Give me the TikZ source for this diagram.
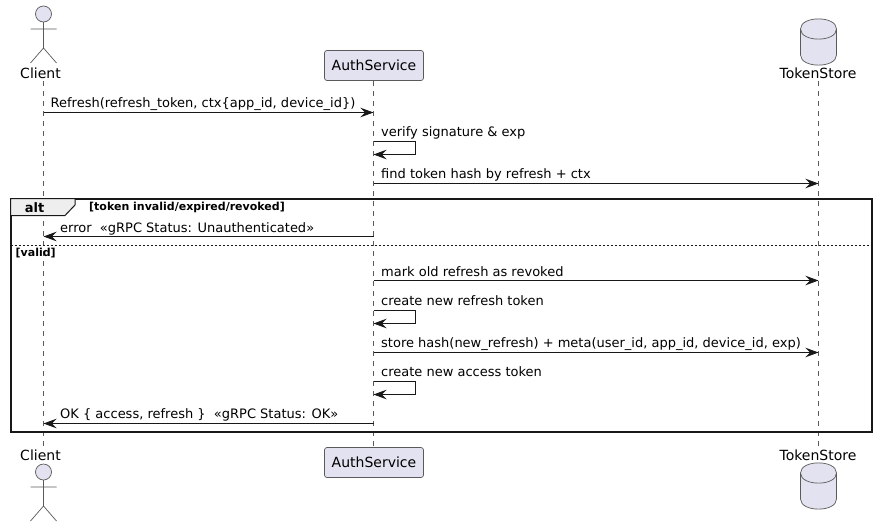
\documentclass[tikz,border=0pt]{standalone}
\usepackage{fontspec}
\setmainfont{DejaVu Sans}
\usetikzlibrary{arrows.meta}
\definecolor{partfill}{HTML}{E2E2F0}
\definecolor{ink}{HTML}{181818}
\definecolor{edge}{HTML}{5A5A5A}
\definecolor{tabfill}{HTML}{EEEEEE}
\tikzset{
  x=1pt,y=-1pt,
  lifeline/.style={draw=edge,line width=0.6pt,dash pattern=on 5pt off 5pt},
  msg/.style={draw=ink,line width=1pt,-{Stealth[length=13pt,width=9.5pt,inset=4.5pt]}},
  msgtext/.style={anchor=base west,inner sep=0pt,font=\fontsize{13}{15}\selectfont,text=black},
  parttext/.style={inner sep=0pt,font=\fontsize{14}{17}\selectfont,text=black},
  partbox/.style={draw=edge,line width=0.7pt,fill=partfill,rounded corners=2.5pt,minimum width=99pt,minimum height=30pt,inner sep=0pt,font=\fontsize{14}{17}\selectfont},
  actorline/.style={draw=edge,line width=0.7pt},
  dbshape/.style={draw=edge,line width=0.7pt,fill=partfill},
  grouptext/.style={anchor=base west,inner sep=0pt,font=\fontsize{11}{13}\selectfont\bfseries,text=black},
  frameline/.style={draw=ink,line width=2pt},
}
\newcommand{\actorfig}[2]{%
  \draw[actorline,fill=partfill] (#1,#2) circle[radius=8];
  \draw[actorline] (#1,#2+8) -- (#1,#2+34) (#1-13,#2+15) -- (#1+13,#2+15)
    (#1-13,#2+49) -- (#1,#2+34) -- (#1+13,#2+49);}
\newcommand{\dbfig}[2]{%
  \draw[dbshape] (#1-18,#2+10) .. controls (#1-18,#2-3.5) and (#1+18,#2-3.5) .. (#1+18,#2+10)
    -- (#1+18,#2+36) .. controls (#1+18,#2+49.5) and (#1-18,#2+49.5) .. (#1-18,#2+36) -- cycle;
  \draw[dbshape,fill=none] (#1-18,#2+10) .. controls (#1-18,#2+23.5) and (#1+18,#2+23.5) .. (#1+18,#2+10);}
\begin{document}
\begin{tikzpicture}
\useasboundingbox (0,0) rectangle (877,528);
\fill[white] (0,0) rectangle (877,528);

% lifeline ends
\coordinate (ctop) at (43.5,81);
\coordinate (cbot) at (43.5,446);
\coordinate (atop) at (373.5,81);
\coordinate (abot) at (373.5,447);
\coordinate (ttop) at (818.5,81);
\coordinate (tbot) at (818.5,446);
\draw[lifeline] (ctop) -- (cbot);
\draw[lifeline] (atop) -- (abot);
\draw[lifeline] (ttop) -- (tbot);

% participants
\actorfig{43.5}{14}
\node[parttext] (clienttop) at (40.5,73) {Client};
\node[partbox] (authtop) at (374,65.5) {AuthService};
\dbfig{818.5}{19}
\node[parttext] (tokentop) at (818,73) {TokenStore};

\node[parttext] (clientbot) at (40.5,455) {Client};
\actorfig{43.5}{472}
\node[partbox] (authbot) at (374,462.5) {AuthService};
\node[parttext] (tokenbot) at (818,455) {TokenStore};
\dbfig{818.5}{463}

% alt frame
\draw[frameline] (10.5,198.5) rectangle (871.5,431.5);
\draw[draw=ink,line width=1pt,fill=tabfill] (10.5,198.5) -- (75,198.5) -- (75,205) -- (65,215.5) -- (10.5,215.5) -- cycle;
\node[inner sep=0pt,font=\fontsize{13}{15}\selectfont\bfseries,anchor=base] (alttag) at (34.5,212) {alt};
\node[grouptext] (guardone) at (89,210.5) {[token invalid/expired/revoked]};
\draw[draw=ink,line width=0.8pt,dash pattern=on 2pt off 2pt] (10.5,245) -- (871.5,245);
\node[grouptext] (guardtwo) at (15.5,256) {[valid]};

% message anchors
\foreach \n/\x/\y in {
  ma/43.5/112.5, mb/373.5/112.5,
  sa/373.5/141.5, sb/415.5/141.5, sc/415.5/154.5, sd/373.5/154.5,
  fa/373.5/183.5, fb/818.5/183.5,
  ea/373.5/236.5, eb/43.5/236.5,
  ka/373.5/280.5, kb/818.5/280.5,
  na/373.5/310.5, nb/415.5/310.5, nc/415.5/323.5, nd/373.5/323.5,
  ha/373.5/352.5, hb/818.5/352.5,
  pa/373.5/381.5, pb/415.5/381.5, pc/415.5/394.5, pd/373.5/394.5,
  oa/373.5/423.5, ob/43.5/423.5}
  {\coordinate (\n) at (\x,\y);}

\draw[msg] (ma) -- (mb);
\draw[msg] (sa) -- (sb) -- (sc) -- (sd);
\draw[msg] (fa) -- (fb);
\draw[msg] (ea) -- (eb);
\draw[msg] (ka) -- (kb);
\draw[msg] (na) -- (nb) -- (nc) -- (nd);
\draw[msg] (ha) -- (hb);
\draw[msg] (pa) -- (pb) -- (pc) -- (pd);
\draw[msg] (oa) -- (ob);

\node[msgtext] (t1) at (50.5,107) {Refresh(refresh\_token, ctx\{app\_id, device\_id\})};
\node[msgtext] (t2) at (381,136) {verify signature \& exp};
\node[msgtext] (t3) at (381,178) {find token hash by refresh + ctx};
\node[msgtext] (t4) at (60,232) {error\ \ «gRPC Status: Unauthenticated»};
\node[msgtext] (t5) at (381,276) {mark old refresh as revoked};
\node[msgtext] (t6) at (381,305) {create new refresh token};
\node[msgtext] (t7) at (381,347) {store hash(new\_refresh) + meta(user\_id, app\_id, device\_id, exp)};
\node[msgtext] (t8) at (381,376) {create new access token};
\node[msgtext] (t9) at (60,418.5) {OK \{ access, refresh \}\ \ «gRPC Status: OK»};
\end{tikzpicture}
\end{document}
